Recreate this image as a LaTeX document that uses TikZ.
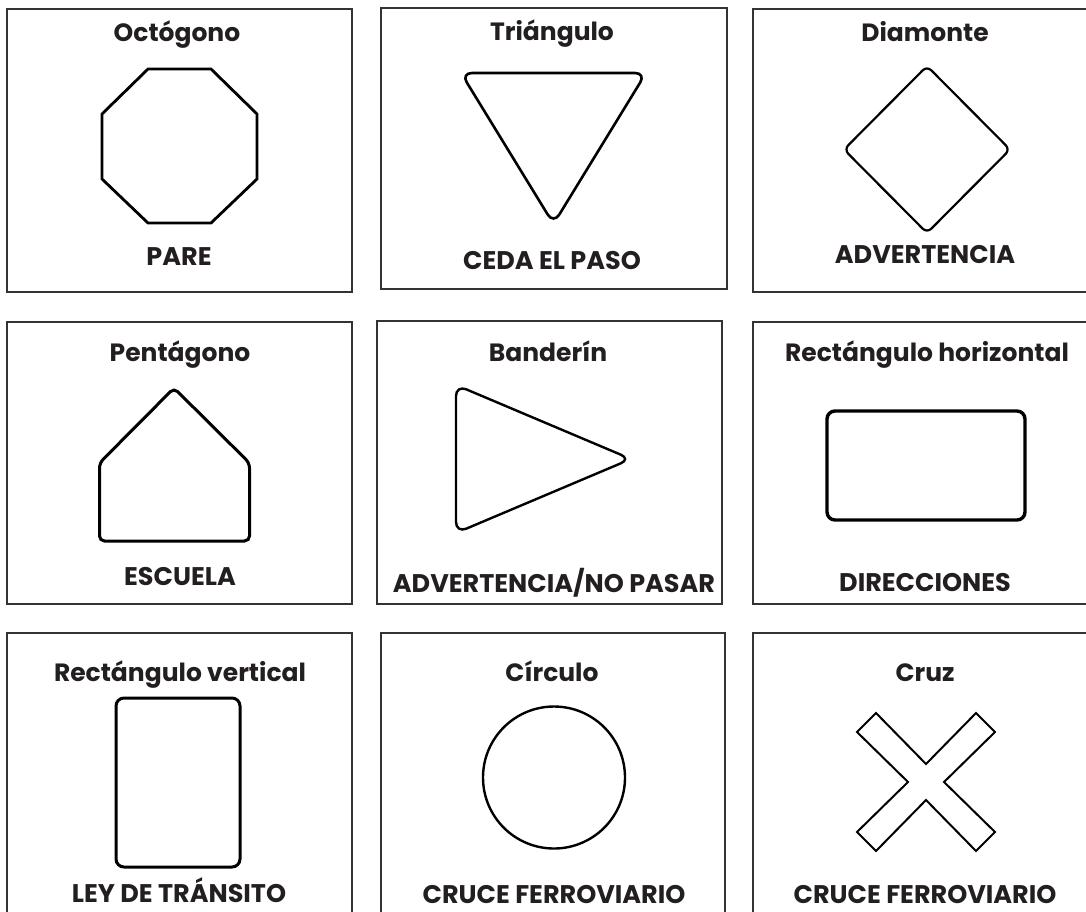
\documentclass[tikz,border=0pt]{standalone}
\usepackage{fontspec}
\setmainfont{Poppins}
\definecolor{boxgray}{HTML}{333333}
\definecolor{txtgray}{HTML}{231F20}
\tikzset{
  panel/.style={draw=boxgray, line width=2.2pt},
  sign/.style={draw=black, line width=2.6pt},
  ttl/.style={anchor=base, text=txtgray, font=\fontsize{25}{29}\selectfont\bfseries, inner sep=0pt},
  lbl/.style={anchor=base, text=txtgray, font=\fontsize{25.5}{29}\selectfont\bfseries, inner sep=0pt}
}
\begin{document}
\begin{tikzpicture}[x=1pt,y=-1pt]
\useasboundingbox (0,0) rectangle (1086,911);
\clip (0,0) rectangle (1086,911);
% panels
\draw[panel] (7,9) rectangle (352,292);
\draw[panel] (381,8) rectangle (727,289);
\draw[panel] (753,9) rectangle (1100,292);
\draw[panel] (7,322) rectangle (352,604);
\draw[panel] (377,321) rectangle (722,604);
\draw[panel] (753,322) rectangle (1100,604);
\draw[panel] (7,633) rectangle (352,930);
\draw[panel] (381,633) rectangle (725,930);
\draw[panel] (753,633) rectangle (1100,930);
% titles
\node[ttl] (t1) at (177,41) {Octógono};
\node[ttl] (t2) at (552,40) {Triángulo};
\node[ttl] (t3) at (925,41) {Diamonte};
\node[ttl] (t4) at (180,361) {Pentágono};
\node[ttl] (t5) at (548,361) {Banderín};
\node[ttl] (t6) at (927,361) {Rectángulo horizontal};
\node[ttl] (t7) at (180,681) {Rectángulo vertical};
\node[ttl] (t8) at (552,681) {Círculo};
\node[ttl] (t9) at (925,681) {Cruz};
% labels
\node[lbl] (l1) at (179,265) {PARE};
\node[lbl] (l2) at (552,269) {CEDA EL PASO};
\node[lbl] (l3) at (925,263) {ADVERTENCIA};
\node[lbl] (l4) at (180,585) {ESCUELA};
\node[lbl] (l5) at (554,592) {ADVERTENCIA/NO PASAR};
\node[lbl] (l6) at (925,591) {DIRECCIONES};
\node[lbl] (l7) at (179,902) {LEY DE TRÁNSITO};
\node[lbl] (l8) at (554,903) {CRUCE FERROVIARIO};
\node[lbl] (l9) at (925,903) {CRUCE FERROVIARIO};
% shapes
\draw[sign, line width=2.8pt] (148,69) -- (211,69) -- (257,114) -- (257,179) -- (211,223) -- (148,223) -- (102,179) -- (102,114) -- cycle;
\draw[sign, rounded corners=11pt] (461,73) -- (646,73) -- (553.5,224) -- cycle;
\draw[sign, line width=2.2pt, rounded corners=6pt] (927,66) -- (1010,149.5) -- (927,233) -- (844,149.5) -- cycle;
\draw[sign, line width=3pt, rounded corners=5pt] (174,388) -- (249.5,463) -- (249.5,541) -- (99.5,541) -- (99.5,463) -- cycle;
\draw[sign, line width=2.4pt, rounded corners=11pt] (456,385) -- (631,459) -- (456,533) -- cycle;
\draw[sign, line width=3.4pt, rounded corners=8pt] (827,411) rectangle (1025,520);
\draw[sign, line width=3pt, rounded corners=8pt] (116,698) rectangle (240,867);
\draw[sign, line width=2.4pt] (554,777.5) circle (71);
\draw[sign, line width=2pt] (926,764) -- (976,713) -- (995,732) -- (944,782) -- (995,832) -- (976,851) -- (926,800) -- (876,851) -- (857,832) -- (908,782) -- (857,732) -- (876,713) -- cycle;
\end{tikzpicture}
\end{document}
